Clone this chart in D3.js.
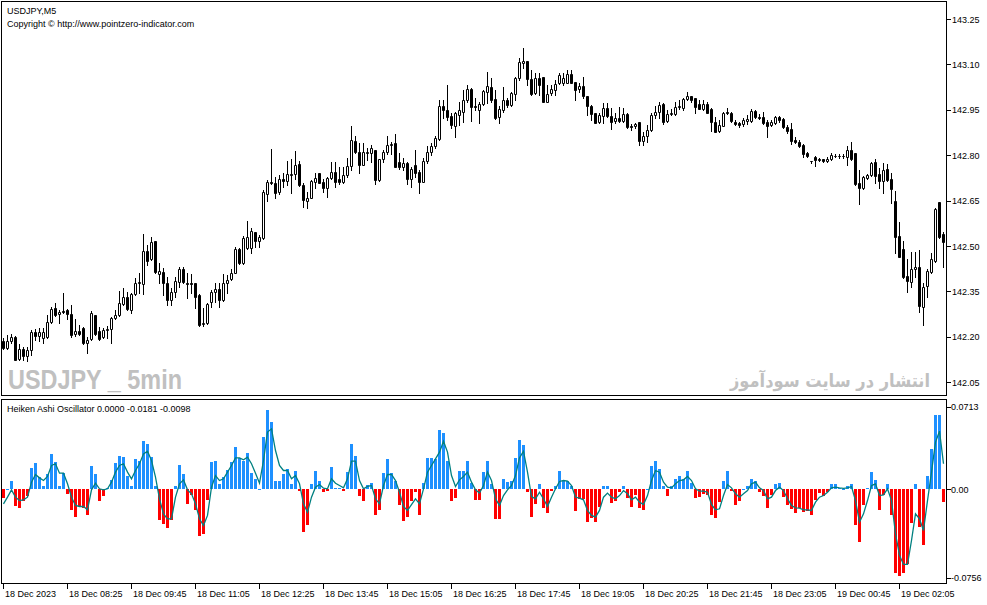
<!DOCTYPE html>
<html>
<head>
<meta charset="utf-8">
<script src="https://cdn.jsdelivr.net/npm/d3@7"></script>
<style>
  body { margin: 0; background: #fff; }
  svg text { font-family: "Liberation Sans", Arial, sans-serif; }
</style>
</head>
<body>
<script>

  // USDJPY M5 candles
  var opens = [
    142.185,142.163,142.187,142.199,142.126,142.161,142.135,142.157,142.215,142.201,
    142.196,142.198,142.248,142.295,142.276,142.286,142.287,142.275,142.209,142.220,
    142.229,142.179,142.192,142.273,142.218,142.199,142.223,142.225,142.262,142.273,
    142.309,142.330,142.287,142.341,142.377,142.374,142.484,142.457,142.515,142.407,
    142.415,142.379,142.320,142.347,142.382,142.423,142.377,142.377,142.377,142.338,
    142.242,142.245,142.314,142.347,142.357,142.320,142.377,142.390,142.412,142.490,
    142.443,142.493,142.493,142.545,142.515,142.525,142.671,142.710,142.707,142.679,
    142.720,142.716,142.736,142.738,142.771,142.702,142.650,142.660,142.712,142.740,
    142.712,142.690,142.726,142.744,142.722,142.711,142.733,142.765,142.847,142.809,
    142.768,142.806,142.806,142.818,142.718,142.787,142.810,142.834,142.839,142.776,
    142.762,142.773,142.720,142.768,142.746,142.713,142.781,142.809,142.829,142.853,
    142.963,142.950,142.930,142.895,142.933,142.944,142.981,143.018,142.963,142.948,
    142.969,143.010,143.025,142.986,142.925,142.948,142.983,142.966,143.003,143.054,
    143.104,143.112,143.052,143.005,143.054,143.060,142.977,143.007,143.014,143.038,
    143.040,143.040,143.069,143.041,143.020,143.029,142.994,142.963,142.939,142.911,
    142.930,142.955,142.930,142.914,142.922,142.914,142.937,142.897,142.895,142.909,
    142.848,142.862,142.884,142.933,142.942,142.968,142.914,142.936,142.936,142.958,
    142.955,142.985,142.996,142.988,142.969,142.953,142.969,142.953,142.911,142.881,
    142.898,142.944,142.941,142.911,142.905,142.903,142.914,142.914,142.946,142.925,
    142.925,142.911,142.900,142.905,142.927,142.919,142.894,142.885,142.850,142.845,
    142.834,142.806,142.782,142.795,142.789,142.786,142.782,142.787,142.797,142.798,
    142.797,142.793,142.817,142.806,142.709,142.691,142.724,142.735,142.776,142.737,
    142.716,142.754,142.721,142.648,142.533,142.490,142.401,142.382,142.425,142.430,
    142.297,142.369,142.415,142.452,142.644,142.540
  ];
  var highs = [
    142.196,142.207,142.209,142.201,142.176,142.166,142.166,142.223,142.225,142.229,
    142.229,142.272,142.300,142.313,142.289,142.344,142.291,142.305,142.260,142.240,
    142.231,142.199,142.286,142.273,142.234,142.229,142.236,142.265,142.289,142.350,
    142.361,142.347,142.344,142.394,142.410,142.540,142.504,142.529,142.518,142.443,
    142.426,142.399,142.360,142.399,142.432,142.432,142.410,142.408,142.379,142.340,
    142.294,142.313,142.355,142.377,142.377,142.408,142.404,142.423,142.498,142.492,
    142.533,142.581,142.559,142.547,142.537,142.685,142.718,142.820,142.729,142.734,
    142.742,142.782,142.786,142.814,142.782,142.707,142.679,142.718,142.740,142.742,
    142.720,142.729,142.776,142.776,142.762,142.762,142.790,142.895,142.864,142.839,
    142.839,142.823,142.834,142.818,142.787,142.818,142.864,142.845,142.870,142.806,
    142.790,142.779,142.762,142.818,142.751,142.790,142.829,142.839,142.862,142.983,
    142.983,143.032,142.939,142.944,142.977,143.016,143.032,143.021,142.988,142.977,
    143.016,143.076,143.054,143.016,142.961,143.025,142.988,143.010,143.060,143.120,
    143.153,143.112,143.082,143.071,143.071,143.060,143.032,143.032,143.049,143.071,
    143.071,143.080,143.082,143.043,143.038,143.060,142.994,142.966,142.941,142.939,
    142.972,142.972,142.955,142.939,142.959,142.955,142.939,142.903,142.908,142.909,
    142.878,142.900,142.939,142.961,142.977,142.971,142.949,142.952,142.977,142.982,
    142.988,143.009,142.996,142.990,142.982,142.982,142.977,142.955,142.927,142.916,
    142.944,142.955,142.944,142.916,142.911,142.922,142.933,142.952,142.949,142.936,
    142.944,142.916,142.916,142.930,142.930,142.922,142.900,142.908,142.861,142.850,
    142.837,142.812,142.782,142.797,142.790,142.789,142.795,142.806,142.804,142.803,
    142.803,142.830,142.845,142.806,142.751,142.731,142.738,142.779,142.786,142.757,
    142.773,142.771,142.740,142.683,142.578,142.516,142.456,142.481,142.481,142.487,
    142.377,142.423,142.478,142.624,142.646,142.547
  ];
  var lows = [
    142.159,142.159,142.179,142.122,142.122,142.124,142.121,142.140,142.190,142.185,
    142.179,142.196,142.245,142.269,142.247,142.278,142.258,142.199,142.203,142.207,
    142.177,142.148,142.190,142.207,142.190,142.196,142.196,142.181,142.258,142.270,
    142.306,142.289,142.280,142.339,142.344,142.341,142.438,142.454,142.410,142.377,
    142.339,142.305,142.305,142.333,142.366,142.377,142.328,142.344,142.295,142.236,
    142.236,142.243,142.298,142.316,142.300,142.318,142.344,142.388,142.410,142.440,
    142.441,142.489,142.478,142.498,142.496,142.523,142.650,142.705,142.660,142.672,
    142.696,142.702,142.674,142.723,142.698,142.628,142.624,142.658,142.690,142.707,
    142.679,142.663,142.723,142.696,142.705,142.707,142.729,142.751,142.806,142.742,
    142.768,142.784,142.779,142.705,142.716,142.776,142.804,142.804,142.760,142.754,
    142.751,142.705,142.696,142.729,142.674,142.710,142.773,142.801,142.823,142.851,
    142.922,142.917,142.889,142.859,142.900,142.911,142.977,142.914,142.950,142.908,
    142.966,142.972,142.977,142.919,142.908,142.944,142.959,142.961,142.981,143.049,
    143.087,143.032,142.999,143.003,142.999,142.977,142.977,142.999,142.999,143.036,
    143.032,143.038,143.038,142.981,143.010,142.988,142.933,142.917,142.906,142.906,
    142.908,142.925,142.886,142.908,142.911,142.911,142.889,142.884,142.889,142.834,
    142.834,142.845,142.881,142.922,142.922,142.903,142.911,142.933,142.933,142.952,
    142.949,142.982,142.977,142.941,142.952,142.949,142.938,142.881,142.877,142.878,
    142.896,142.936,142.911,142.900,142.894,142.896,142.903,142.911,142.922,142.919,
    142.903,142.861,142.896,142.903,142.911,142.889,142.874,142.837,142.839,142.826,
    142.793,142.793,142.775,142.764,142.782,142.779,142.779,142.784,142.793,142.792,
    142.792,142.767,142.784,142.702,142.638,142.688,142.720,142.731,142.707,142.691,
    142.676,142.716,142.643,142.478,142.463,142.393,142.349,142.363,142.397,142.283,
    142.239,142.330,142.410,142.448,142.525,142.432
  ];
  var closes = [
    142.163,142.187,142.198,142.124,142.160,142.135,142.157,142.215,142.204,142.215,
    142.215,142.248,142.292,142.272,142.281,142.281,142.275,142.207,142.220,142.209,
    142.179,142.190,142.278,142.210,142.192,142.221,142.225,142.262,142.273,142.311,
    142.331,142.291,142.341,142.377,142.380,142.484,142.451,142.512,142.415,142.418,
    142.377,142.322,142.347,142.385,142.423,142.382,142.374,142.376,142.333,142.239,
    142.247,142.309,142.349,142.357,142.320,142.377,142.388,142.412,142.490,142.443,
    142.525,142.529,142.550,142.515,142.531,142.679,142.710,142.707,142.676,142.720,
    142.716,142.738,142.738,142.768,142.702,142.652,142.658,142.715,142.726,142.709,
    142.690,142.726,142.743,142.713,142.710,142.735,142.765,142.851,142.809,142.768,
    142.809,142.812,142.823,142.718,142.787,142.810,142.834,142.837,142.762,142.762,
    142.773,142.720,142.754,142.742,142.713,142.781,142.812,142.831,142.856,142.961,
    142.950,142.925,142.900,142.939,142.950,142.983,143.018,142.959,142.959,142.969,
    143.012,143.027,142.981,142.922,142.953,142.983,142.966,143.005,143.054,143.109,
    143.112,143.051,143.003,143.054,143.032,142.977,143.003,143.018,143.036,143.065,
    143.054,143.069,143.040,143.016,143.029,142.994,142.963,142.937,142.908,142.933,
    142.955,142.930,142.911,142.922,142.914,142.937,142.892,142.892,142.902,142.848,
    142.864,142.884,142.933,142.944,142.966,142.911,142.936,142.938,142.960,142.963,
    142.985,142.996,142.982,142.960,142.953,142.969,142.941,142.911,142.878,142.900,
    142.941,142.938,142.913,142.902,142.899,142.916,142.919,142.946,142.925,142.922,
    142.908,142.896,142.911,142.925,142.916,142.892,142.881,142.848,142.845,142.830,
    142.804,142.798,142.781,142.784,142.784,142.781,142.789,142.801,142.798,142.797,
    142.798,142.817,142.787,142.705,142.691,142.727,142.735,142.773,142.731,142.716,
    142.751,142.718,142.687,142.531,142.465,142.397,142.385,142.423,142.430,142.303,
    142.363,142.419,142.456,142.621,142.531,142.514
  ];

  // Heiken Ashi Oscillator: histogram and its signal line
  var hist = [
    -0.0074,0.0003,0.0069,-0.0146,-0.0155,-0.0103,-0.0052,0.0186,0.0226,0.0106,
    0.0034,0.0129,0.0301,0.0235,0.0034,0.0140,-0.0037,-0.0180,-0.0232,-0.0146,
    -0.0158,-0.0223,0.0206,0.0129,-0.0100,-0.0052,0.0011,0.0083,0.0226,0.0284,
    0.0278,0.0112,0.0029,0.0263,0.0241,0.0415,0.0392,0.0278,0.0029,-0.0258,
    -0.0295,-0.0329,-0.0258,0.0034,0.0212,0.0135,-0.0123,-0.0046,-0.0180,-0.0401,
    -0.0381,-0.0086,0.0235,0.0249,0.0043,0.0106,0.0169,0.0235,0.0364,0.0272,
    0.0243,0.0312,0.0140,0.0092,0.0005,0.0455,0.0687,0.0584,0.0077,0.0077,
    0.0129,0.0172,0.0043,0.0155,-0.0014,-0.0367,-0.0301,0.0043,0.0163,0.0077,
    -0.0023,-0.0009,0.0189,0.0011,0.0009,-0.0014,0.0149,0.0387,0.0284,-0.0060,
    -0.0095,0.0040,0.0060,-0.0215,-0.0180,0.0140,0.0258,0.0140,0.0069,-0.0137,
    -0.0272,-0.0238,-0.0100,-0.0023,-0.0215,0.0054,0.0269,0.0269,0.0263,0.0515,
    0.0484,0.0243,-0.0100,-0.0074,0.0163,0.0158,0.0241,0.0054,-0.0089,-0.0089,
    0.0149,0.0249,0.0049,-0.0252,-0.0252,0.0092,0.0063,0.0077,0.0269,0.0421,
    0.0378,-0.0023,-0.0238,-0.0123,0.0043,-0.0160,-0.0203,-0.0009,0.0034,0.0155,
    0.0077,0.0077,0.0029,-0.0186,-0.0080,-0.0080,-0.0281,-0.0243,-0.0281,-0.0152,
    0.0034,0.0034,-0.0117,-0.0095,-0.0023,0.0026,-0.0072,-0.0152,-0.0043,-0.0158,
    -0.0175,0.0006,0.0200,0.0249,0.0178,0.0026,-0.0052,0.0026,0.0086,0.0112,
    0.0086,0.0155,0.0054,-0.0074,-0.0066,-0.0037,-0.0043,-0.0223,-0.0246,-0.0109,
    0.0069,0.0155,-0.0014,-0.0129,-0.0095,0.0006,0.0026,0.0092,0.0069,-0.0023,
    -0.0052,-0.0160,-0.0043,0.0043,0.0054,-0.0066,-0.0137,-0.0166,-0.0203,-0.0160,
    -0.0195,-0.0186,-0.0218,-0.0086,-0.0031,-0.0052,-0.0023,0.0043,0.0043,0.0014,
    0.0006,0.0026,0.0049,-0.0301,-0.0447,-0.0137,0.0014,0.0149,0.0083,-0.0172,
    -0.0043,0.0043,-0.0215,-0.0719,-0.0745,-0.0719,-0.0644,-0.0292,0.0049,-0.0324,
    -0.0473,0.0120,0.0349,0.0644,0.0636,-0.0109
  ];
  var signal = [
    -0.0123,-0.0066,-0.0003,-0.0066,-0.0095,-0.0089,-0.0066,0.0063,0.0129,0.0100,
    0.0077,0.0112,0.0206,0.0221,0.0140,0.0140,0.0049,-0.0066,-0.0137,-0.0146,
    -0.0146,-0.0175,-0.0003,0.0054,0.0006,-0.0003,0.0006,0.0063,0.0149,0.0206,
    0.0221,0.0149,0.0092,0.0163,0.0221,0.0306,0.0329,0.0249,0.0106,-0.0080,
    -0.0209,-0.0252,-0.0252,-0.0066,0.0049,0.0083,-0.0003,-0.0037,-0.0123,-0.0252,
    -0.0309,-0.0223,0.0020,0.0120,0.0077,0.0092,0.0149,0.0206,0.0272,0.0272,
    0.0255,0.0278,0.0221,0.0140,0.0054,0.0249,0.0493,0.0521,0.0335,0.0206,
    0.0163,0.0163,0.0092,0.0120,0.0049,-0.0123,-0.0195,-0.0066,0.0020,0.0043,
    0.0011,0.0006,0.0092,0.0054,0.0034,0.0014,0.0092,0.0243,0.0243,0.0077,
    0.0006,0.0026,0.0034,-0.0080,-0.0123,0.0034,0.0129,0.0129,0.0077,-0.0023,
    -0.0146,-0.0180,-0.0129,-0.0080,-0.0123,0.0006,0.0149,0.0206,0.0263,0.0321,
    0.0415,0.0321,0.0120,0.0026,0.0083,0.0112,0.0149,0.0063,-0.0003,-0.0031,
    0.0034,0.0149,0.0077,-0.0080,-0.0137,-0.0052,-0.0003,0.0034,0.0120,0.0272,
    0.0329,0.0149,-0.0060,-0.0080,-0.0023,-0.0080,-0.0146,-0.0066,0.0006,0.0069,
    0.0077,0.0072,0.0034,-0.0066,-0.0074,-0.0089,-0.0180,-0.0223,-0.0238,-0.0180,
    -0.0066,-0.0031,-0.0066,-0.0080,-0.0052,-0.0009,-0.0037,-0.0089,-0.0066,-0.0109,
    -0.0129,-0.0052,0.0077,0.0163,0.0149,0.0063,0.0020,0.0014,0.0049,0.0077,
    0.0083,0.0112,0.0077,0.0006,-0.0014,-0.0014,-0.0023,-0.0129,-0.0175,-0.0166,
    -0.0052,0.0043,0.0014,-0.0037,-0.0066,-0.0037,-0.0009,0.0049,0.0063,0.0014,
    -0.0009,-0.0080,-0.0066,-0.0009,0.0020,-0.0009,-0.0080,-0.0137,-0.0158,-0.0160,
    -0.0175,-0.0175,-0.0180,-0.0109,-0.0066,-0.0052,-0.0023,0.0014,0.0020,0.0014,
    0.0009,0.0014,0.0026,-0.0095,-0.0281,-0.0209,-0.0095,0.0034,0.0049,-0.0052,
    -0.0046,0.0006,-0.0095,-0.0381,-0.0564,-0.0644,-0.0644,-0.0438,-0.0209,-0.0252,
    -0.0352,-0.0095,0.0149,0.0407,0.0501,0.0221
  ];

  var priceTicks = [143.25, 143.10, 142.95, 142.80, 142.65, 142.50, 142.35, 142.20, 142.05];
  var oscTicks = [0.0713, 0, -0.0756];
  var oscTickText = ['0.0713', '0.00', '-0.0756'];
  var timeBars = [0, 16, 32, 48, 64, 80, 96, 112, 128, 144, 160, 176, 192, 208, 224];
  var timeLabels = ['18 Dec 2023', '18 Dec 08:25', '18 Dec 09:45', '18 Dec 11:05', '18 Dec 12:25',
                    '18 Dec 13:45', '18 Dec 15:05', '18 Dec 16:25', '18 Dec 17:45', '18 Dec 19:05',
                    '18 Dec 20:25', '18 Dec 21:45', '18 Dec 23:05', '19 Dec 00:45', '19 Dec 02:05'];

  var width = 987,
      height = 605;

  var n = d3.min([opens.length, highs.length, lows.length, closes.length]);
  var candles = d3.range(n).map(function(i) {
    return { i: i, o: opens[i], h: highs[i], l: lows[i], c: closes[i] };
  });
  var osc = d3.range(Math.min(hist.length, signal.length)).map(function(i) {
    return { i: i, v: hist[i], s: signal[i] };
  });

  var svg = d3.select('body')
    .append('svg')
    .attr('width', width)
    .attr('height', height);

  var x = d3.scaleLinear().domain([0, 235]).range([3.5, 943.5]);
  var y = d3.scaleLinear().domain([142.05, 143.25]).range([382.2, 19]);
  var yOsc = d3.scaleLinear().domain([-0.0756, 0.0713]).range([577.5, 406.5]);

  function px(v) { return Math.round(v) + 0.5; }

  // frames
  svg.append('rect').attr('x', 1.5).attr('y', 1.5).attr('width', 945).attr('height', 394)
    .attr('fill', 'none').attr('stroke', '#000');
  svg.append('rect').attr('x', 1.5).attr('y', 399.5).attr('width', 945).attr('height', 184)
    .attr('fill', 'none').attr('stroke', '#000');

  // watermarks
  svg.append('text')
    .attr('x', 8).attr('y', 389)
    .attr('textLength', 174)
    .attr('lengthAdjust', 'spacingAndGlyphs')
    .style('font-weight', 'bold').style('font-size', '28px')
    .attr('fill', '#c0c0c0')
    .text('USDJPY _ 5min');
  svg.append('text')
    .attr('x', 930).attr('y', 387)
    .attr('text-anchor', 'start')
    .attr('direction', 'rtl')
    .attr('textLength', 200)
    .attr('lengthAdjust', 'spacingAndGlyphs')
    .style('font-family', '"DejaVu Sans", sans-serif')
    .style('font-weight', 'bold').style('font-size', '18px')
    .attr('fill', '#c0c0c0')
    .text('انتشار در سایت سودآموز');

  // candles
  var cg = svg.append('g');
  cg.selectAll('line')
    .data(candles)
    .enter()
    .append('line')
    .attr('x1', function(d) { return x(d.i); })
    .attr('x2', function(d) { return x(d.i); })
    .attr('y1', function(d) { return px(y(d.h)) - 0.5; })
    .attr('y2', function(d) { return px(y(d.l)) + 0.5; })
    .attr('stroke', '#000')
    .attr('stroke-width', 1);

  cg.selectAll('path')
    .data(candles)
    .enter()
    .append('path')
    .attr('d', function(d) {
      var top = px(y(Math.max(d.o, d.c))),
          bot = px(y(Math.min(d.o, d.c))),
          x0 = x(d.i) - 1,
          x1 = x(d.i) + 1;
      return 'M' + x0 + ',' + top + 'H' + x1 + 'V' + bot + 'H' + x0 + 'Z';
    })
    .attr('fill', function(d) { return d.c >= d.o ? '#fff' : '#000'; })
    .attr('stroke', '#000')
    .attr('stroke-width', 1);

  // oscillator histogram
  var zero = yOsc(0);
  svg.append('g')
    .selectAll('rect')
    .data(osc)
    .enter()
    .append('rect')
    .attr('x', function(d) { return x(d.i) - 1.5; })
    .attr('width', 3)
    .attr('y', function(d) { return d.v >= 0 ? Math.round(yOsc(d.v)) : Math.round(zero); })
    .attr('height', function(d) {
      return Math.max(1, Math.abs(Math.round(yOsc(d.v)) - Math.round(zero)));
    })
    .attr('fill', function(d) { return d.v >= 0 ? '#1e90ff' : '#ff0000'; });

  // signal line
  var line = d3.line()
    .x(function(d) { return x(d.i); })
    .y(function(d) { return yOsc(d.s); });
  svg.append('path')
    .datum(osc)
    .attr('d', line)
    .attr('fill', 'none')
    .attr('stroke', '#008080')
    .attr('stroke-width', 1.3);

  // price axis
  var pa = svg.append('g');
  pa.selectAll('line')
    .data(priceTicks)
    .enter()
    .append('line')
    .attr('x1', 946.5).attr('x2', 951)
    .attr('y1', function(d) { return px(y(d)); })
    .attr('y2', function(d) { return px(y(d)); })
    .attr('stroke', '#000');
  pa.selectAll('text')
    .data(priceTicks)
    .enter()
    .append('text')
    .attr('x', 952)
    .attr('y', function(d) { return y(d) + 3.5; })
    .style('font-size', '9px')
    .attr('fill', '#000')
    .text(function(d) { return d3.format('.2f')(d); });

  // oscillator axis
  var oa = svg.append('g');
  oa.selectAll('line')
    .data(oscTicks)
    .enter()
    .append('line')
    .attr('x1', 946.5).attr('x2', 951)
    .attr('y1', function(d) { return px(yOsc(d)); })
    .attr('y2', function(d) { return px(yOsc(d)); })
    .attr('stroke', '#000');
  oa.selectAll('text')
    .data(oscTicks)
    .enter()
    .append('text')
    .attr('x', 951)
    .attr('y', function(d) { return yOsc(d) + 3.5; })
    .style('font-size', '9px')
    .attr('fill', '#000')
    .text(function(d, i) { return oscTickText[i]; });

  // time axis
  var ta = svg.append('g');
  ta.selectAll('line')
    .data(timeBars)
    .enter()
    .append('line')
    .attr('x1', function(d) { return x(d); })
    .attr('x2', function(d) { return x(d); })
    .attr('y1', 584).attr('y2', 589)
    .attr('stroke', '#000');
  ta.selectAll('text')
    .data(timeBars)
    .enter()
    .append('text')
    .attr('x', function(d) { return x(d) + 1.5; })
    .attr('y', 597)
    .style('font-size', '9px')
    .attr('fill', '#000')
    .text(function(d, i) { return timeLabels[i]; });

  // titles
  svg.append('text').attr('x', 7).attr('y', 14).style('font-size', '9px')
    .attr('fill', '#000').text('USDJPY,M5');
  svg.append('text').attr('x', 7).attr('y', 27).style('font-size', '9px')
    .attr('fill', '#000').text('Copyright \u00a9 http://www.pointzero-indicator.com');
  svg.append('text').attr('x', 7).attr('y', 412).style('font-size', '9px')
    .attr('fill', '#000').text('Heiken Ashi Oscillator 0.0000 -0.0181 -0.0098');

</script>
</body>
</html>
